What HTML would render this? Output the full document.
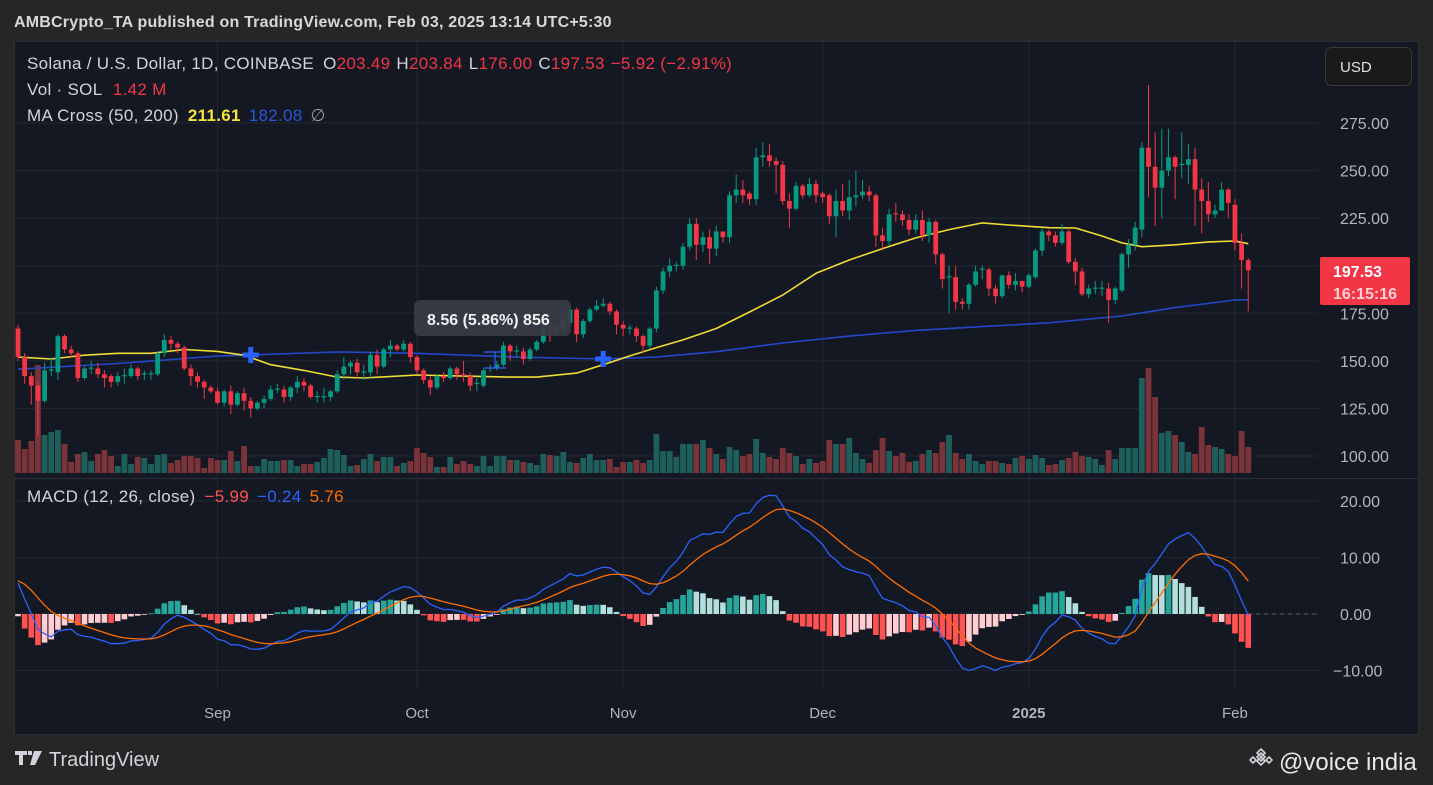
<!DOCTYPE html>
<html><head><meta charset="utf-8">
<style>
html,body{margin:0;padding:0;background:#262626;width:1433px;height:785px;overflow:hidden;font-family:"Liberation Sans",sans-serif}
svg{position:absolute;left:0;top:0}
</style></head>
<body>
<svg id="chart" width="1433" height="785" viewBox="0 0 1433 785" xmlns="http://www.w3.org/2000/svg">
<text x="14" y="27" fill="#d7d8dc" font-size="16" font-weight="bold" letter-spacing="0.2">AMBCrypto_TA published on TradingView.com, Feb 03, 2025 13:14 UTC+5:30</text>
<rect x="14.5" y="41.5" width="1404" height="693" fill="#141823" stroke="#2a2e39"/>
<g id="grid"></g>
<g id="vol"></g>
<g id="ma"></g>
<g id="candles"></g>
<g id="macd"></g>
<g id="axes"></g>
<line x1="14" y1="478.5" x2="1418" y2="478.5" stroke="#2a2e39"/>
<g font-size="17" letter-spacing="0.3">
<text x="27" y="69" fill="#d1d4dc">Solana / U.S. Dollar, 1D, COINBASE <tspan dx="4">O</tspan><tspan fill="#f23645">203.49</tspan><tspan dx="6">H</tspan><tspan fill="#f23645">203.84</tspan><tspan dx="6">L</tspan><tspan fill="#f23645">176.00</tspan><tspan dx="6">C</tspan><tspan fill="#f23645">197.53</tspan><tspan dx="6" fill="#f23645">−5.92 (−2.91%)</tspan></text>
<text x="27" y="95" fill="#d1d4dc">Vol · SOL <tspan dx="6" fill="#f23645">1.42 M</tspan></text>
<text x="27" y="121" fill="#d1d4dc">MA Cross (50, 200) <tspan dx="4" fill="#f5e33b" font-weight="bold">211.61</tspan><tspan dx="8" fill="#2a57d8">182.08</tspan><tspan dx="8" fill="#9598a1">∅</tspan></text>
<text x="27" y="502" fill="#d1d4dc">MACD (12, 26, close) <tspan dx="4" fill="#ff5252">−5.99</tspan><tspan dx="8" fill="#2962ff">−0.24</tspan><tspan dx="8" fill="#ff6d00">5.76</tspan></text>
</g>
<g>
<rect x="414" y="300" width="157" height="36" rx="6" fill="#3a3d47" opacity="0.92"/>
<text x="427" y="325" fill="#f0f0f0" font-size="16" font-weight="bold">8.56 (5.86%) 856</text>
<path d="M484 352 H506 M495 352 V368 M484 368 H506" stroke="#2962ff" stroke-width="1.2" fill="none"/>
</g>
<g>
<rect x="1325.5" y="47.5" width="86" height="38" rx="6" fill="#1a1a1a" stroke="#3a3a3a"/>
<text x="1340" y="72" fill="#e0e0e0" font-size="15">USD</text>
</g>
<g>
<rect x="1320" y="257" width="90" height="48" rx="2" fill="#f23645"/>
<text x="1333" y="277" fill="#fff" font-size="16" font-weight="bold">197.53</text>
<text x="1333" y="299" fill="#ffd0d4" font-size="16" font-weight="bold">16:15:16</text>
</g>
<g>
<path d="M15 751 h12 v4 h-4 v10 h-4 v-10 h-4z M28 751 h4 v4 h-4z M34 751 h8 l-7 14 h-5z" fill="#d1d4dc"/>
<text x="49" y="766" fill="#d1d4dc" font-size="20">TradingView</text>
</g>
<g>
<path d="M1261 749 l4 4 -4 4 -4 -4z M1261 757 l4 4 -4 4 -4 -4z M1253 757 l3 3 -3 3 -3 -3z M1269 757 l3 3 -3 3 -3 -3z M1261 753 l4 4 -4 4 -4 -4z" fill="none" stroke="#d1d4dc" stroke-width="1.6"/>
<text x="1279" y="770" fill="#e8e8e8" font-size="24">@voice india</text>
</g>
</svg>
<script>
const opens=[167,152,142,137,129,145,144,163,156,154,141,146,146,143,142,139,142,142,146,143,143,143,154,161,159,157,146,142,139,136,134,128,134,127,133,129,125,128,130,135,135,131,136,139,137,131,131,131,134,143,147,149,144,144,153,147,156,158,156,159,152,145,140,136,142,141,146,143,142,138,137,146,146,148,158,155,155,151,156,160,167,166,168,170,177,164,171,177,179,180,176,169,167,167,163,158,167,187,197,200,200,210,222,211,215,209,218,215,237,240,238,235,257,258,255,253,234,230,242,237,243,238,237,226,234,229,236,237,239,237,216,213,227.5,227,224,219,224,216,223,206,194,194,181,180,190,198,198,188,184,195,190,192,189,194,208,218,216,212,218,202,197,185,188,188,188,182,187,206,211,219,262,252,241,250,257,253,253,256,240,234,227,229,240,232,212,203];
const closes=[152,142,137,129,145,145.5,163,156,154,141,146,146.5,143,141,139,142,142.5,146,142,143.5,143.5,154,161,159,157,146,142,139,136,134,128,134,127,133,129,125,128,130,135,135.5,131,136,139,137,131,131.5,131.5,134,143,147,149,144,144.5,153,147,156,158,156,159,152,145,140,136,142,141,146,143,142,137,138.5,145,146.5,148,158,155,155.5,151,156,160,167,166,168,171,177,164,171,177,179,180,176,169,167,167.5,163,158,167,187,197,200,200.5,210,222,211,215,209,218,215,237,240,237,235,257,258,255,253,234,230,242,237,243,237,236,226,234,229,236,237,239,237,216,213,227,227,224,219,224,216,223,206,193,194.5,181,180,190,197,198.5,188,184,195,190,192,189,195,208,218,216,212,218,202,197,185,188,188.5,188.5,182,188,206,211,220,262,252,241,250,257,252,253.5,256,240,234,227,229,240,233,212,203,197.53];
const highs=[169,154,144,139,149,152,164,164,158,155,147,150,149,145,143,144,146,148,147,145,145,155,164,163,160,158,148,144,140,137,136,135,137,134,136,131,129,132,137,138,137,137,142,141,138,134,136,135,145,152,150,151,148,155,156,157,161,159,161,160,153,146,142,143,144,147,147,150,144,141,146,148,150,160,159,158,157,157,161,170,172,169,174,179,178,172,178,182,183,181,177,171,169,168,164,168,189,199,204,202,212,225,225,218,219,221,218,239,248,245,239,262,265,264,257,255,238,244,243,246,245,239,238,240,243,245,250,245,242,238,220,230,233,229,227,227,229,225,224,207,200,200,183,191,200,200,199,190,195,197,196,192,196,209,220,219,218,222,219,204,199,190,192,192,191,189,207,214,223,265,295,270,272,272,258,270,264,262,246,244,232,244,241,235,217,204];
const lows=[150,138,127,110,128,142,140,154,152,139,140,143,141,136,136,137,138,141,140,140,140,142,152,156,154,145,137,136,130,133,127,126,122,126,124,120,124,125,129,133,128,129,133,134,130,128,128,129,133,140,143,141,140,141,143,146,152,155,155,149,143,138,132,135,139,140,140,139,134,134,136,144,145,147,150,152,148,150,155,159,160,165,166,168,160,162,170,176,178,174,164,163,164,160,154,156,165,185,194,197,198,208,203,207,201,205,212,212,233,233,232,232,252,252,238,232,220,229,235,236,233,233,222,215,226,224,231,235,234,210,208,211,223,221,216,217,213,212,201,188,175,177,177,177,189,193,184,180,183,188,187,186,188,193,205,213,210,211,201,190,184,183,185,184,170,180,186,199,208,215,236,221,225,247,235,246,243,221,217,223,225,229,225,208,188,176];
const volumes=[33,24,32,108,38,41,43,29,11,19,21,12,19,23,17,7,19,9,16,15,9,18,19,10,13,17,17,15,5,15,13,13,22,12,27,7,7,14,12,12,13,13,7,9,9,11,15,24,23,18,7,8,14,19,12,16,16,7,10,12,25,20,16,6,6,16,9,12,9,7,17,7,17,17,13,13,11,10,8,19,18,17,21,11,10,15,19,13,13,14,6,11,11,13,10,13,39,22,22,16,29,29,29,33,25,19,14,26,23,17,19,34,20,16,14,25,20,17,9,14,10,12,33,29,29,35,20,14,10,23,35,22,17,20,11,12,19,23,20,31,38,20,14,19,12,9,12,12,10,9,15,17,14,18,15,8,9,13,15,21,17,16,14,8,23,14,25,25,25,95,105,76,40,42,38,31,21,19,46,28,26,24,19,17,42,26];
const ma50Idx=[0,5,10,15,20,25,30,34,38,43,48,52,60,67,74,78,84,88,92,96,100,105,110,115,120,125,130,135,140,145,149,155,159,163,166,169,174,179,183,185];
const ma50Val=[152,151,153,154,154,156,155,153,148,145,141.5,141,142.6,142,141.5,141.5,143.6,148,152.6,157,161,167,175.7,184.6,196,203,209,214.6,219,222.5,221.4,220,219.8,215.6,212,210,211,212.5,213,211.6];
const ma200Idx=[0,15,30,48,60,75,88,96,105,115,125,135,145,155,166,174,183,185];
const ma200Val=[145.6,148.6,152.5,154.7,154,152,151,152,154.8,159.4,163,166,168,170,173.6,178,182,182.1];
const crossIdx=[35,88];
const priceTicks=[275,250,225,200,175,150,125,100];
const macdTicks=[20,10,0,-10];
const monthLabels=["Sep","Oct","Nov","Dec","2025","Feb"];
const monthIdx=[30,60,91,121,152,183];

const NS="http://www.w3.org/2000/svg";
const xS=i=>18+6.65*i;
const yP=p=>123+(275-p)*1.903;
const yM=m=>614-m*5.65;
const volBase=473;
function mk(parent,tag,attrs){const e=document.createElementNS(NS,tag);for(const k in attrs)e.setAttribute(k,attrs[k]);document.getElementById(parent).appendChild(e);return e;}

monthIdx.forEach((mi,j)=>{
  const g=mk('grid','line',{x1:xS(mi),x2:xS(mi),y1:42,y2:690,stroke:'#232733','stroke-width':1});
  
  
  const t=mk('axes','text',{x:xS(mi),y:718,fill:'#b2b5be','font-size':15,'text-anchor':'middle','font-weight':monthLabels[j]==='2025'?'bold':'normal'});
  t.textContent=monthLabels[j];
  
  
});
priceTicks.forEach(p=>{
  const g=mk('grid','line',{x1:14,x2:1318,y1:yP(p),y2:yP(p),stroke:'#232733','stroke-width':1});
  
  
  if(p===200)return;
  const t=mk('axes','text',{x:1340,y:yP(p)+6,fill:'#b2b5be','font-size':16});
  t.textContent=p.toFixed(2);
  
  
});
macdTicks.forEach(m=>{
  const g=mk('grid','line',{x1:14,x2:1318,y1:yM(m),y2:yM(m),stroke:'#232733','stroke-width':1});
  
  
  const t=mk('axes','text',{x:m<0?1333:1340,y:yM(m)+6,fill:'#b2b5be','font-size':16});
  t.textContent=(m<0?'−':'')+Math.abs(m).toFixed(2);
  
  
});

volumes.forEach((v,i)=>{
  const up=closes[i]>=opens[i];
  const r=mk('vol','rect',{x:xS(i)-2.9,y:volBase-v,width:5.8,height:v,fill:up?'#1f5f5b':'#7a3338'});
  
  
});

function line(parent,idx,val,color,name){
  const pts=idx.map((ix,k)=>xS(ix).toFixed(1)+','+yP(val[k]).toFixed(1)).join(' ');
  const pl=mk(parent,'polyline',{points:pts,fill:'none',stroke:color,'stroke-width':1.6,'stroke-linejoin':'round'});
  
  
}
line('ma',ma200Idx,ma200Val,'#2447c8','ma200-line');
line('ma',ma50Idx,ma50Val,'#f0dc36','ma50-line');

closes.forEach((c,i)=>{
  const o=opens[i],up=c>=o,col=up?'#089981':'#f23645',x=xS(i);
  const w=mk('candles','line',{x1:x,x2:x,y1:yP(highs[i]),y2:yP(lows[i]),stroke:col,'stroke-width':1});
  
  
  const top=yP(Math.max(o,c)),bot=yP(Math.min(o,c));
  const b=mk('candles','rect',{x:x-2.4,y:top,width:4.8,height:Math.max(1.2,bot-top),fill:col});
  
  
});
crossIdx.forEach(ci=>{
  const x=xS(ci);
  let yy=0;for(let k=0;k<ma200Idx.length-1;k++){if(ci>=ma200Idx[k]&&ci<=ma200Idx[k+1]){const f=(ci-ma200Idx[k])/(ma200Idx[k+1]-ma200Idx[k]);yy=ma200Val[k]+f*(ma200Val[k+1]-ma200Val[k]);}}
  const y=yP(yy);
  const p=mk('candles','path',{d:`M${x-8} ${y} H${x+8} M${x} ${y-8} V${y+8}`,stroke:'#2962ff','stroke-width':5});
  
  
});

let e12=176,e26=168,sig=6;
const macdV=[],sigV=[],histV=[];
closes.forEach(c=>{e12=e12+(c-e12)*2/13;e26=e26+(c-e26)*2/27;const m=e12-e26;sig=sig+(m-sig)*0.2;macdV.push(m);sigV.push(sig);histV.push(m-sig);});
const zl=mk('macd','line',{x1:xS(185),x2:1318,y1:yM(0),y2:yM(0),stroke:'#5d606b','stroke-dasharray':'4 4'});


histV.forEach((h,i)=>{
  const prev=i>0?histV[i-1]:h;
  const col=h>=0?(h>=prev?'#26a69a':'#b2dfdb'):(h<prev?'#ff5252':'#ffcdd2');
  const y0=yM(0),y1=yM(h);
  const r=mk('macd','rect',{x:xS(i)-2.8,y:Math.min(y0,y1),width:5.6,height:Math.max(0.8,Math.abs(y1-y0)),fill:col});
  
  
});
const mp=mk('macd','polyline',{points:macdV.map((m,i)=>xS(i).toFixed(1)+','+yM(m).toFixed(1)).join(' '),fill:'none',stroke:'#2962ff','stroke-width':1.3});


const sp=mk('macd','polyline',{points:sigV.map((m,i)=>xS(i).toFixed(1)+','+yM(m).toFixed(1)).join(' '),fill:'none',stroke:'#ff6d00','stroke-width':1.3});


</script>
</body></html>
